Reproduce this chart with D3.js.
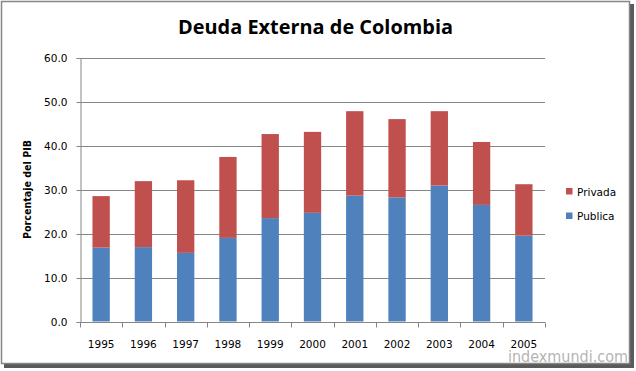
<!DOCTYPE html>
<html>
<head>
<meta charset="utf-8">
<script src="https://cdn.jsdelivr.net/npm/d3@7"></script>
<style>
  body { margin: 0; background: #fff; }
  svg { display: block; }
</style>
</head>
<body>
<script>
// data (% of GDP)
var years = ["1995","1996","1997","1998","1999","2000","2001","2002","2003","2004","2005"];
var publica = [16.8, 16.9, 15.6, 19.0, 23.5, 24.7, 28.6, 28.2, 30.9, 26.5, 19.5];
var privada = [11.7, 15.0, 16.5, 18.4, 19.1, 18.4, 19.2, 17.8, 16.9, 14.3, 11.7];
var yTicks = [0, 10, 20, 30, 40, 50, 60];
var seriesNames = ["Publica", "Privada"];
var colors = ["#4F81BD", "#C0504D"];

var w = 636, h = 371;
var plotLeft = 80, plotRight = 545, plotTop = 57.5, plotBottom = 321.5;

var svg = d3.select("body").append("svg")
    .attr("width", w)
    .attr("height", h);

// frame + shadow
svg.append("rect").attr("x", 4).attr("y", 4).attr("width", 630).attr("height", 364).attr("fill", "#5a5a5a");
svg.append("rect").attr("x", 1.5).attr("y", 1.5).attr("width", 628).attr("height", 362)
    .attr("fill", "#fff").attr("stroke", "#868686").attr("stroke-width", 1.5);

var rows = years.map(function (y, i) { return {year: y, Publica: publica[i], Privada: privada[i]}; });
var stacked = d3.stack().keys(seriesNames)(rows);

var x = d3.scaleBand().domain(years).range([plotLeft, plotRight]).paddingInner(0.59).paddingOuter(0.295);
var xOuter = d3.scaleBand().domain(years).range([plotLeft, plotRight]);
var y = d3.scaleLinear().domain([0, 60]).range([plotBottom, plotTop]);

// gridlines
svg.append("g").selectAll("line")
    .data(yTicks.slice(1))
    .enter().append("line")
    .attr("x1", plotLeft).attr("x2", plotRight)
    .attr("y1", function (d) { return Math.round(y(d)) + 0.5; })
    .attr("y2", function (d) { return Math.round(y(d)) + 0.5; })
    .attr("stroke", "#868686");

// bars
svg.append("g").selectAll("g")
    .data(stacked)
    .enter().append("g")
    .attr("fill", function (d, i) { return colors[i]; })
    .selectAll("rect")
    .data(function (d) { return d; })
    .enter().append("rect")
    .attr("x", function (d) { return x(d.data.year); })
    .attr("width", x.bandwidth())
    .attr("y", function (d) { return y(d[1]); })
    .attr("height", function (d) { return y(d[0]) - y(d[1]); });

// y axis
var yAxis = d3.axisLeft(y).tickValues(yTicks).tickSize(4).tickPadding(9)
    .tickFormat(d3.format(".1f"));
var gy = svg.append("g")
    .attr("transform", "translate(" + (plotLeft + 0.5) + ",0.5)")
    .call(yAxis);
gy.select(".domain").attr("stroke", "#868686");
gy.selectAll(".tick line").attr("stroke", "#868686");
gy.selectAll("text").attr("fill", "#000").style("font-family", "DejaVu Sans").style("font-size", "10.5px");

// x axis: ticks between categories
var gx = svg.append("g").attr("transform", "translate(0," + (Math.round(plotBottom) + 0.5) + ")");
gx.append("line").attr("x1", plotLeft).attr("x2", plotRight).attr("stroke", "#868686");
gx.selectAll(".sep")
    .data(years.concat(["end"]))
    .enter().append("line")
    .attr("class", "sep")
    .attr("x1", function (d, i) { return Math.round(plotLeft + i * xOuter.step()) + 0.5; })
    .attr("x2", function (d, i) { return Math.round(plotLeft + i * xOuter.step()) + 0.5; })
    .attr("y1", 0).attr("y2", 5)
    .attr("stroke", "#868686");
gx.selectAll("text")
    .data(years)
    .enter().append("text")
    .attr("x", function (d) { return xOuter(d) + xOuter.bandwidth() / 2; })
    .attr("y", 25)
    .attr("text-anchor", "middle")
    .style("font-family", "DejaVu Sans")
    .style("font-size", "10.5px")
    .text(function (d) { return d; });

// y label
svg.append("text")
    .attr("transform", "translate(31,189.5) rotate(-90)")
    .attr("text-anchor", "middle")
    .style("font-family", "DejaVu Sans")
    .style("font-weight", "bold")
    .style("font-size", "10px")
    .attr("textLength", 99)
    .attr("lengthAdjust", "spacingAndGlyphs")
    .text("Porcentaje del PIB");

// title
svg.append("text")
    .attr("x", 315.5)
    .attr("y", 34)
    .attr("text-anchor", "middle")
    .style("font-family", "Open Sans")
    .style("font-weight", "bold")
    .style("font-size", "20px")
    .attr("textLength", 275)
    .attr("lengthAdjust", "spacingAndGlyphs")
    .text("Deuda Externa de Colombia");

// legend (Privada first)
var legend = svg.selectAll(".legend")
    .data(["Privada", "Publica"])
    .enter().append("g")
    .attr("class", "legend")
    .attr("transform", function (d, i) { return "translate(566," + (188 + i * 24.5) + ")"; });
legend.append("rect")
    .attr("width", 6.5).attr("height", 6.5)
    .attr("fill", function (d) { return colors[seriesNames.indexOf(d)]; });
legend.append("text")
    .attr("x", 11)
    .attr("y", 7.5)
    .style("font-family", "DejaVu Sans")
    .style("font-size", "10.5px")
    .text(function (d) { return d; });

// watermark
svg.append("text")
    .attr("x", 628)
    .attr("y", 362)
    .attr("text-anchor", "end")
    .style("font-family", "DejaVu Sans")
    .style("font-size", "16px")
    .attr("fill", "#b4b4b4")
    .attr("textLength", 120)
    .attr("lengthAdjust", "spacingAndGlyphs")
    .text("indexmundi.com");
</script>
</body>
</html>
